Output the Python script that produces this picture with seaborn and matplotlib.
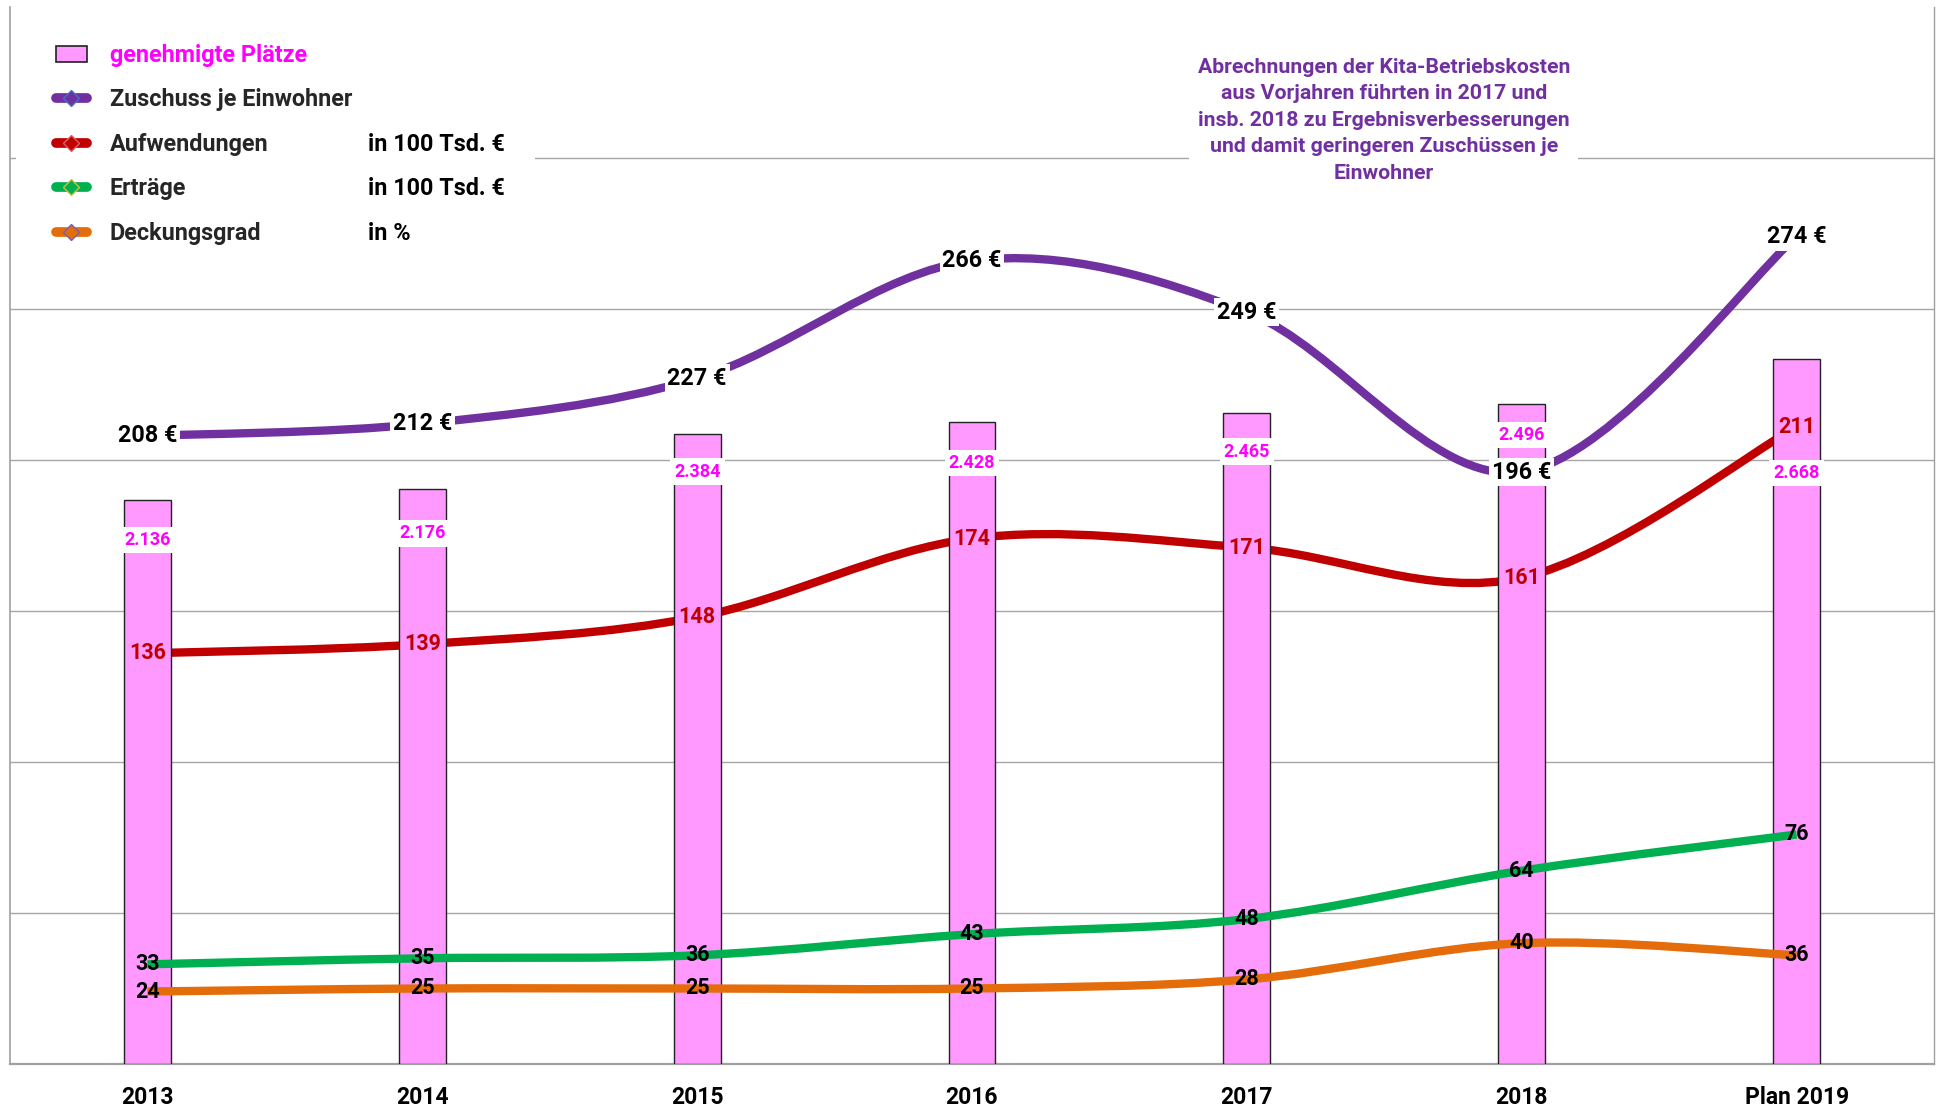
import numpy as np
import matplotlib
matplotlib.use("Agg")
import matplotlib.pyplot as plt
import seaborn as sns
from matplotlib.path import Path
from matplotlib.patches import PathPatch, Patch, Rectangle
from matplotlib.lines import Line2D

years = ["2013", "2014", "2015", "2016", "2017", "2018", "Plan 2019"]
plaetze = [2136, 2176, 2384, 2428, 2465, 2496, 2668]
zuschuss = [208, 212, 227, 266, 249, 196, 274]
aufwendungen = [136, 139, 148, 174, 171, 161, 211]
ertraege = [33, 35, 36, 43, 48, 64, 76]
deckung = [24, 25, 25, 25, 28, 40, 36]

note = ("Abrechnungen der Kita-Betriebskosten\n"
        "aus Vorjahren führten in 2017 und\n"
        "insb. 2018 zu Ergebnisverbesserungen\n"
        "und damit geringeren Zuschüssen je\n"
        "Einwohner")

PURPLE = "#7030A0"
RED = "#C00000"
GREEN = "#00B050"
ORANGE = "#E46C0A"
MAGENTA = "#FF00FF"
PINK = "#FF99FF"

sns.set_style("white")
plt.rcParams["font.family"] = ["Roboto", "DejaVu Sans"]
plt.rcParams["font.weight"] = "bold"

W, H = 1937, 1112
fig = plt.figure(figsize=(W / 100, H / 100), dpi=100)
ax = fig.add_axes([10 / W, 1 - 1064 / H, 1924 / W, 1057 / H])
ax2 = ax.twinx()
ax3 = ax.twinx()


def smooth(ys):
    # excel-like smoothed line (catmull-rom as bezier)
    xs = list(range(len(ys)))
    n = len(ys)
    verts = [(xs[0], ys[0])]
    codes = [Path.MOVETO]
    for i in range(n - 1):
        a = i - 1 if i > 0 else i
        d = i + 2 if i + 2 < n else i + 1
        c1 = (xs[i] + (xs[i + 1] - xs[a]) / 6, ys[i] + (ys[i + 1] - ys[a]) / 6)
        c2 = (xs[i + 1] - (xs[d] - xs[i]) / 6, ys[i + 1] - (ys[d] - ys[i]) / 6)
        verts += [c1, c2, (xs[i + 1], ys[i + 1])]
        codes += [Path.CURVE4] * 3
    return Path(verts, codes)


def draw_line(axis, ys, color):
    axis.add_patch(PathPatch(smooth(ys), fill=False, edgecolor=color,
                             lw=6, capstyle="butt", zorder=3))


# back layer: grid, Zuschuss, Aufwendungen
ax.set_ylim(0, 350)
ax.set_yticks([50, 100, 150, 200, 250, 300])
ax.yaxis.grid(True, color="#A6A6A6", lw=1.0)
ax.tick_params(axis="y", left=False, labelleft=False)
draw_line(ax, zuschuss, PURPLE)
draw_line(ax, aufwendungen, RED)

# bars on secondary scale
sns.barplot(x=years, y=plaetze, ax=ax2, color=PINK, saturation=1,
            width=0.17, edgecolor="#222222", linewidth=1.0)
ax2.set_ylim(0, 4000)
ax2.set_yticks([])
ax2.set_ylabel("")

# front layer: Erträge, Deckungsgrad
ax3.set_ylim(0, 350)
ax3.set_yticks([])
draw_line(ax3, ertraege, GREEN)
draw_line(ax3, deckung, ORANGE)

for a in (ax, ax2, ax3):
    a.set_xlim(-0.5, len(years) - 0.5)
    for s in a.spines.values():
        s.set_visible(False)
for s in ("left", "bottom", "right"):
    ax.spines[s].set_visible(True)
    ax.spines[s].set_color("#A0A0A0")
ax.spines["bottom"].set_linewidth(1.6)
ax.spines["left"].set_linewidth(1.2)
ax.spines["right"].set_linewidth(1.0)

ax.set_xticks(range(len(years)))
ax.set_xticklabels(years, fontsize=16.5, fontweight="bold", color="black")
ax.tick_params(axis="x", bottom=False, pad=12)

# data labels
for i, v in enumerate(zuschuss):
    ax3.text(i, v, f"{v} €", ha="center", va="center", fontsize=16.8,
             fontweight="bold", color="black", zorder=6,
             bbox=dict(facecolor="white", edgecolor="none", pad=2))
for i, v in enumerate(aufwendungen):
    ax3.text(i, v, str(v), ha="center", va="center", fontsize=15.5,
             fontweight="bold", color=RED, zorder=6)
for i, v in enumerate(ertraege):
    ax3.text(i, v, str(v), ha="center", va="center", fontsize=15.5,
             fontweight="bold", color="black", zorder=6)
for i, v in enumerate(deckung):
    ax3.text(i, v, str(v), ha="center", va="center", fontsize=15.5,
             fontweight="bold", color="black", zorder=6)

# bar labels (placed a bit below the bar top, last one moved down)
drop_pt = [29, 32, 27, 29, 28, 22, 82]
for i, v in enumerate(plaetze):
    ax2.annotate(f"{v:,}".replace(",", "."), xy=(i, v), xytext=(0, -drop_pt[i]),
                 textcoords="offset points", ha="center", va="center",
                 fontsize=13, fontweight="bold", color=MAGENTA, zorder=7,
                 annotation_clip=False,
                 bbox=dict(facecolor="white", edgecolor="none", pad=3))

# note box
ax3.text(0.714, 0.893, note, transform=ax3.transAxes, ha="center", va="center",
         multialignment="center", fontsize=15.3, fontweight="bold", color=PURPLE,
         linespacing=1.5, zorder=8,
         bbox=dict(facecolor="white", edgecolor="none", pad=6))

# legend
ax3.add_patch(Rectangle((0.003, 0.83), 0.27, 0.05, transform=ax3.transAxes,
                        facecolor="white", edgecolor="none", zorder=4))
handles = [
    Patch(facecolor=PINK, edgecolor="#222222", lw=1.2),
    Line2D([], [], color=PURPLE, lw=7, solid_capstyle="round", marker="D",
           markersize=8, markerfacecolor=PURPLE, markeredgecolor="#4472C4"),
    Line2D([], [], color=RED, lw=7, solid_capstyle="round", marker="D",
           markersize=8, markerfacecolor=RED, markeredgecolor="#E06060"),
    Line2D([], [], color=GREEN, lw=7, solid_capstyle="round", marker="D",
           markersize=8, markerfacecolor=GREEN, markeredgecolor="#C8C040"),
    Line2D([], [], color=ORANGE, lw=7, solid_capstyle="round", marker="D",
           markersize=8, markerfacecolor=ORANGE, markeredgecolor="#7060C0"),
]
names = ["genehmigte Plätze", "Zuschuss je Einwohner", "Aufwendungen",
         "Erträge", "Deckungsgrad"]
units = ["", "", "in 100 Tsd. €", "in 100 Tsd. €", "in %"]
leg = ax3.legend(handles, names, loc="upper left", bbox_to_anchor=(0.024, 0.965),
                 frameon=False, fontsize=16.8, handlelength=1.3,
                 handleheight=0.7, handletextpad=1.0, labelspacing=0.92,
                 borderpad=0, borderaxespad=0)
leg.set_zorder(9)
for t in leg.get_texts():
    t.set_fontweight("bold")
leg.get_texts()[0].set_color(MAGENTA)

fig.canvas.draw()
inv = fig.transFigure.inverted()
for t, u in zip(leg.get_texts(), units):
    if not u:
        continue
    bb = t.get_window_extent()
    yc = inv.transform((0, (bb.y0 + bb.y1) / 2))[1]
    fig.text(368 / W, yc, u, ha="left", va="center", fontsize=16.8,
             fontweight="bold", color="black", zorder=10)

fig.savefig("out.png", dpi=100)
